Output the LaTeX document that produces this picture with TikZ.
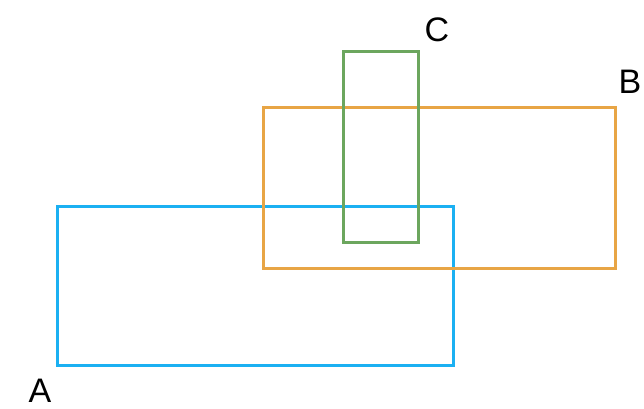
\documentclass[tikz,border=0pt]{standalone}
\usepackage{fontspec}
\setmainfont{Liberation Sans}
\usepackage{tikz}
\usetikzlibrary{positioning}

\definecolor{boxblue}{RGB}{27,176,242}
\definecolor{boxorange}{RGB}{232,165,69}
\definecolor{boxgreen}{RGB}{108,166,94}

\tikzset{
	setbox/.style={draw=#1, line width=2.8pt, anchor=north west, inner sep=0pt},
	setlabel/.style={font=\fontsize{34}{40}\selectfont, inner sep=0pt}
}

\begin{document}
\begin{tikzpicture}[x=1pt,y=-1pt]
		%\draw[help lines] (0,0) grid (644,408);
		\useasboundingbox (0,0) rectangle (644,408);
		\foreach \n/\x/\y/\w/\h/\c in {A/56/205/396/159/boxblue, B/262/106/352/161/boxorange, C/342/50/75/191/boxgreen} {
			\node[setbox=\c, minimum width=\w pt, minimum height=\h pt] (\n) at (\x,\y) {};
		}
		\node[setlabel] (labA) at (40,391) {A};
		\node[setlabel] (labB) at (630,82) {B};
		\node[setlabel] (labC) at (437,30) {C};
\end{tikzpicture}
\end{document}
